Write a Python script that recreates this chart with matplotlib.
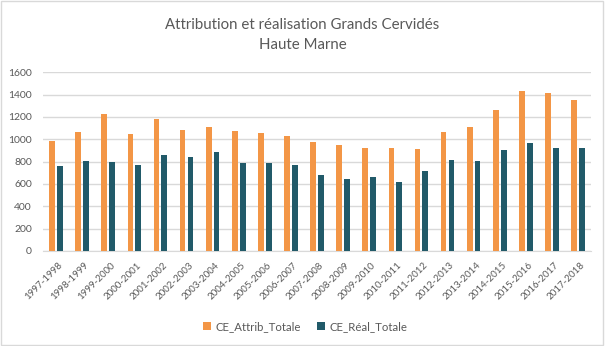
import numpy as np
import matplotlib.pyplot as plt
import matplotlib.transforms as mtransforms
from matplotlib.patches import Rectangle

plt.rcParams['font.family'] = ['Lato', 'DejaVu Sans']

saisons = ['1997-1998', '1998-1999', '1999-2000', '2000-2001', '2001-2002',
           '2002-2003', '2003-2004', '2004-2005', '2005-2006', '2006-2007',
           '2007-2008', '2008-2009', '2009-2010', '2010-2011', '2011-2012',
           '2012-2013', '2013-2014', '2014-2015', '2015-2016', '2016-2017',
           '2017-2018']
attrib = [985, 1066, 1227, 1048, 1182, 1084, 1110, 1075, 1057, 1030,
          976, 949, 922, 922, 913, 1066, 1110, 1263, 1433, 1415, 1352]
real = [761, 806, 797, 770, 860, 842, 887, 788, 788, 770,
        681, 645, 663, 618, 716, 815, 806, 904, 967, 922, 922]

c_attrib = '#F39646'
c_real = '#215A69'
txt = '#595959'

fig = plt.figure(figsize=(6.05, 3.46), dpi=100)
ax = fig.add_axes([0.071, 0.2746, 0.906, 0.5164])

x = np.arange(len(saisons))
w = 0.22
ax.bar(x - 0.15, attrib, w, color=c_attrib, label='CE_Attrib_Totale', zorder=3)
ax.bar(x + 0.15, real, w, color=c_real, label='CE_Réal_Totale', zorder=3)

ax.set_xlim(-0.5, len(saisons) - 0.5)
ax.set_ylim(0, 1600)
ax.set_yticks(range(0, 1601, 200))
ax.grid(axis='y', color='#D9D9D9', linewidth=1, zorder=0)
for s in ['top', 'right', 'left']:
    ax.spines[s].set_visible(False)
ax.spines['bottom'].set_color('#D9D9D9')
ax.tick_params(axis='y', length=0, colors=txt, labelsize=7.5, pad=8)
ax.tick_params(axis='x', length=0, colors=txt, labelsize=7, pad=7)
ax.set_xticks(x)
ax.set_xticklabels(saisons, rotation=45, ha='right', va='top', rotation_mode='anchor')
# small shift so the label end sits just right of the tick, like Excel
offset = mtransforms.ScaledTranslation(1.5 / 72, 0, fig.dpi_scale_trans)
for lab in ax.get_xticklabels():
    lab.set_transform(lab.get_transform() + offset)

fig.text(0.5, 0.899, 'Attribution et réalisation Grands Cervidés\nHaute Marne',
         ha='center', va='center', fontsize=10.8, color=txt, linespacing=1.55)

fig.legend(loc='center', bbox_to_anchor=(0.505, 0.055), ncol=2, frameon=False,
           fontsize=8.2, labelcolor=txt, handlelength=0.7, handleheight=0.7,
           handletextpad=0.4, columnspacing=1.4)

fig.patches.append(Rectangle((0.002, 0.004), 0.995, 0.992, transform=fig.transFigure,
                             fill=False, edgecolor='#D9D9D9', linewidth=1))

fig.savefig('out.png', dpi=100)
